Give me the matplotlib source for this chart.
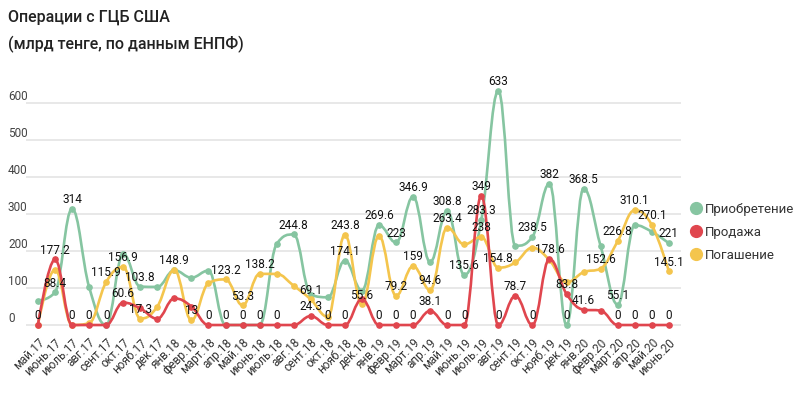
import numpy as np
import matplotlib
matplotlib.use("Agg")
import matplotlib.pyplot as plt
from matplotlib.lines import Line2D
from matplotlib.path import Path
from matplotlib.patches import PathPatch

plt.rcParams['font.family'] = ['Roboto', 'DejaVu Sans']

months = ['май.17', 'июнь.17', 'июль.17', 'авг.17', 'сент.17', 'окт.17', 'нояб.17', 'дек.17',
          'янв.18', 'февр.18', 'март.18', 'апр.18', 'май.18', 'июнь.18', 'июль.18', 'авг.18',
          'сент.18', 'окт.18', 'нояб.18', 'дек.18', 'янв.19', 'февр.19', 'март.19', 'апр.19',
          'май.19', 'июнь.19', 'июль.19', 'авг.19', 'сент.19', 'окт.19', 'нояб.19', 'дек.19',
          'янв.20', 'февр.20', 'март.20', 'апр.20', 'май.20', 'июнь.20']

purchase = [66, 88.4, 314, 103, 0, 192, 103.8, 103, 148, 128, 147, 0, 0, 0, 219, 244.8,
            82, 75, 174.1, 93, 269.6, 223, 346.9, 170, 308.8, 135.6, 283.3, 633, 214, 238.5,
            382, 0, 368.5, 213, 55.1, 270, 252, 221]
sale = [0, 177.2, 0, 0, 0, 60.6, 45, 17, 72, 50, 0, 0, 0, 0, 0, 0,
        24.3, 0, 0, 70, 0, 0, 0, 38.1, 0, 0, 349, 0, 78.7, 0,
        178.6, 83.8, 41.6, 39, 0, 0, 0, 0]
repayment = [0, 150, 0, 5, 115.9, 156.9, 17.3, 50, 148.9, 13, 113, 123.2, 53.3, 138.2, 138, 106,
             69.1, 22, 243.8, 55.6, 241, 79.2, 159, 94.6, 263.4, 218, 238, 154.8, 169, 209,
             175, 115, 143, 152.6, 226.8, 310.1, 270.1, 145.1]

# which points carry a value label in the original
purchase_lbl = [1, 2, 6, 15, 18, 20, 21, 22, 24, 25, 26, 27, 29, 30, 31, 32, 34, 37]
sale_lbl = [0, 1, 2, 3, 4, 5, 10, 11, 12, 13, 14, 16, 17, 18, 20, 21, 22, 23, 24, 25, 26,
            27, 28, 29, 30, 31, 32, 34, 35, 36, 37]
repayment_lbl = [4, 5, 6, 8, 9, 11, 12, 13, 16, 18, 19, 21, 22, 23, 24, 26, 27, 33, 34, 35, 36, 37]

series = [
    ('Приобретение', purchase, purchase_lbl, '#86c5a1', 2),
    ('Продажа', sale, sale_lbl, '#e0464e', 4),
    ('Погашение', repayment, repayment_lbl, '#f4c54d', 3),
]


def spline_path(y, smoothing=1.5):
    """Bezier spline through the points, control points kept from overshooting."""
    y = [float(v) for v in y]
    n = len(y)
    left, right = [None] * n, [None] * n
    d = smoothing + 1
    for i in range(n):
        if i == 0 or i == n - 1:
            left[i] = right[i] = (i, y[i])
            continue
        lx, ly = (smoothing * i + i - 1) / d, (smoothing * y[i] + y[i - 1]) / d
        rx, ry = (smoothing * i + i + 1) / d, (smoothing * y[i] + y[i + 1]) / d
        corr = (ry - ly) * (rx - i) / (rx - lx) + y[i] - ry
        ly += corr
        ry += corr
        if ly > y[i - 1] and ly > y[i]:
            ly = max(y[i - 1], y[i]); ry = 2 * y[i] - ly
        elif ly < y[i - 1] and ly < y[i]:
            ly = min(y[i - 1], y[i]); ry = 2 * y[i] - ly
        if ry > y[i + 1] and ry > y[i]:
            ry = max(y[i + 1], y[i]); ly = 2 * y[i] - ry
        elif ry < y[i + 1] and ry < y[i]:
            ry = min(y[i + 1], y[i]); ly = 2 * y[i] - ry
        left[i], right[i] = (lx, ly), (rx, ry)
    verts, codes = [(0, y[0])], [Path.MOVETO]
    for i in range(1, n):
        verts += [right[i - 1], left[i], (i, y[i])]
        codes += [Path.CURVE4] * 3
    return Path(verts, codes)


fig = plt.figure(figsize=(8, 3.94), dpi=100)
ax = fig.add_axes([0.0325, 0.161, 0.8185, 0.634])

x = np.arange(len(months))
for name, vals, lbl, color, z in series:
    ax.add_patch(PathPatch(spline_path(vals), fill=False, edgecolor=color, lw=1.9, zorder=z,
                           capstyle='round', joinstyle='round'))
    ax.plot(x, vals, 'o', color=color, ms=3.8, zorder=z)
    for i in lbl:
        ax.annotate(f'{vals[i]:g}', (i, vals[i]), xytext=(0, 2), textcoords='offset points',
                    ha='center', va='bottom', fontsize=8.5, color='#111111', zorder=6)

ax.set_xlim(-0.7, len(months) - 0.3)
ax.set_ylim(-15, 660)
ax.set_yticks([0, 100, 200, 300, 400, 500, 600])
ax.grid(axis='y', color='#e6e6e6', lw=1.3)
ax.set_axisbelow(True)
ax.tick_params(axis='y', length=0, labelleft=False)
for v in [0, 100, 200, 300, 400, 500, 600]:
    ax.text(-0.0275, v, str(v), transform=ax.get_yaxis_transform(), ha='left', va='bottom',
            fontsize=8.5, color='#444444')

ax.set_xticks(x)
ax.set_xticklabels(months, rotation=45, ha='right', rotation_mode='anchor', fontsize=8.5,
                   color='#333333')
ax.tick_params(axis='x', length=0, pad=4)
for s in ax.spines.values():
    s.set_visible(False)

fig.text(0.01, 0.955, 'Операции с ГЦБ США', fontsize=11.5, weight='medium', va='center',
         color='#222222')
fig.text(0.01, 0.888, '(млрд тенге, по данным ЕНПФ)', fontsize=11.5, weight='medium', va='center',
         color='#222222')

handles = [Line2D([], [], marker='o', ls='', color=c, ms=8.5) for _, _, _, c, _ in series]
fig.legend(handles, [s[0] for s in series], loc='center left', bbox_to_anchor=(0.862, 0.41),
           frameon=False, fontsize=9.5, labelspacing=0.75, handletextpad=0.25, handlelength=0.9,
           borderpad=0, borderaxespad=0, labelcolor='#333333')

fig.savefig('out.png', dpi=100)
